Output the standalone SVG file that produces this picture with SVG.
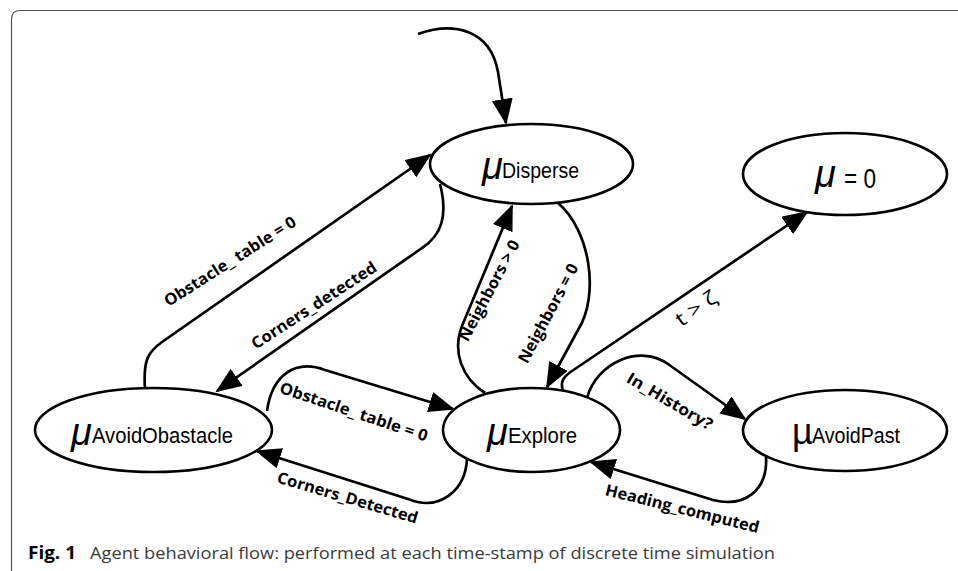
<svg xmlns="http://www.w3.org/2000/svg" width="958" height="571" viewBox="0 0 958 571">
<style>
.node{fill:#fff;stroke:#000;stroke-width:2.6}
.edge{fill:none;stroke:#000;stroke-width:2.7;marker-end:url(#ah)}
.mu{font-family:"Liberation Sans",Arial,sans-serif;font-style:italic;font-size:38px;fill:#000}
.mu2{font-family:"Liberation Sans",Arial,sans-serif;font-size:36px;fill:#000}
.nt{font-family:"Liberation Sans",Arial,sans-serif;font-size:22px;fill:#000}
.nt2{font-family:"Liberation Sans",Arial,sans-serif;font-size:28px;fill:#000}
.lbl{font-family:"Open Sans","Liberation Sans",sans-serif;font-weight:700;font-size:16px;fill:#000;text-anchor:middle}
.lblr{font-family:"Open Sans","Liberation Sans",sans-serif;font-size:20px;fill:#000;text-anchor:middle}
.cap{font-family:"Open Sans","Liberation Sans",sans-serif;font-size:17px;fill:#3a3a3a}
.capb{font-family:"Open Sans","Liberation Sans",sans-serif;font-size:17px;font-weight:700;fill:#000}
</style>
<defs>
<marker id="ah" markerWidth="28" markerHeight="22" refX="24" refY="10.5" orient="auto" markerUnits="userSpaceOnUse">
<path d="M0,0 L26,10.5 L0,21 z" fill="#000"/>
</marker>
</defs>
<rect width="958" height="571" fill="#fff"/>
<path d="M11.5 571 V19 Q11.5 10.5 20 10.5 H958" fill="none" stroke="#555" stroke-width="1.2"/>

<g id="connectors">
<path id="e-init" class="edge" d="M418 34 C452 22 490 28 498 72 L506 123"/>
<path id="e-ao-di" class="edge" d="M145 389 C143 360 148 352 162 342 L430 155"/>
<path id="e-di-ao" class="edge" d="M440 184 C448 215 442 235 422 248 L217 391"/>
<path id="e-ao-ex" class="edge" d="M267 411 C272 375 295 359 325 370 L453 409"/>
<path id="e-ex-ao" class="edge" d="M467 458 C466 490 440 512 408 499 L257 451"/>
<path id="e-ex-di" class="edge" d="M485 393 C462 378 452 352 462 326 L512 206"/>
<path id="e-di-ex" class="edge" d="M558 203 C590 230 600 295 578 330 L547 387"/>
<path id="e-ex-z" class="edge" d="M563 391 C560 382 563 377 572 371 L807 212"/>
<path id="e-ex-ap" class="edge" d="M587 398 C597 362 640 344 668 364 L745 419"/>
<path id="e-ap-ex" class="edge" d="M766 457 C768 490 745 508 713 500 L591 462"/>
</g>

<g id="labels">
<text class="lbl" transform="translate(233,266) rotate(-32.5)" textLength="153" lengthAdjust="spacingAndGlyphs">Obstacle_ table = 0</text>
<text class="lbl" transform="translate(317,310) rotate(-33)" textLength="146" lengthAdjust="spacingAndGlyphs">Corners_detected</text>
<text class="lbl" transform="translate(352,417) rotate(18.5)" textLength="155" lengthAdjust="spacingAndGlyphs">Obstacle_ table = 0</text>
<text class="lbl" transform="translate(346,503) rotate(16.5)" textLength="146" lengthAdjust="spacingAndGlyphs">Corners_Detected</text>
<text class="lbl" transform="translate(494,293) rotate(-62)" textLength="112" lengthAdjust="spacingAndGlyphs">Neighbors &gt; 0</text>
<text class="lbl" transform="translate(553,316) rotate(-62)" textLength="110" lengthAdjust="spacingAndGlyphs">Neighbors = 0</text>
<text class="lblr" transform="translate(700,314) rotate(-35)" textLength="46" lengthAdjust="spacingAndGlyphs">t &gt; ζ</text>
<text class="lbl" transform="translate(667,406) rotate(30.5)" textLength="97" lengthAdjust="spacingAndGlyphs">In_History?</text>
<text class="lbl" transform="translate(681,514) rotate(14)" textLength="158" lengthAdjust="spacingAndGlyphs">Heading_computed</text>
</g>

<g id="disperse">
<ellipse class="node" cx="531.5" cy="164" rx="101.5" ry="40"/>
<text><tspan class="mu" x="482" y="179">μ</tspan><tspan class="nt" x="502" y="178" textLength="77" lengthAdjust="spacingAndGlyphs">Disperse</tspan></text>
</g>

<g id="mu-zero">
<ellipse class="node" cx="845" cy="174" rx="102" ry="41"/>
<text><tspan class="mu" x="815" y="187">μ</tspan> <tspan class="nt2" x="844" y="188" textLength="32" lengthAdjust="spacingAndGlyphs">= 0</tspan></text>
</g>

<g id="avoid-obstacle">
<ellipse class="node" cx="153.5" cy="430" rx="118.5" ry="42"/>
<text><tspan class="mu" x="71" y="445">μ</tspan><tspan class="nt" x="92" y="443" textLength="141" lengthAdjust="spacingAndGlyphs">AvoidObastacle</tspan></text>
</g>

<g id="explore">
<ellipse class="node" cx="531.5" cy="430" rx="88.5" ry="42"/>
<text><tspan class="mu" x="487" y="445">μ</tspan><tspan class="nt" x="508" y="443" textLength="69" lengthAdjust="spacingAndGlyphs">Explore</tspan></text>
</g>

<g id="avoid-past">
<ellipse class="node" cx="845" cy="430.5" rx="102" ry="40.5"/>
<text><tspan class="mu2" x="792" y="444">µ</tspan><tspan class="nt" x="812" y="443" textLength="88" lengthAdjust="spacingAndGlyphs">AvoidPast</tspan></text>
</g>

<g id="caption">
<text class="capb" x="28" y="559" textLength="48" lengthAdjust="spacingAndGlyphs">Fig. 1</text>
<text class="cap" x="90" y="559" textLength="685" lengthAdjust="spacingAndGlyphs">Agent behavioral flow: performed at each time-stamp of discrete time simulation</text>
</g>
</svg>
